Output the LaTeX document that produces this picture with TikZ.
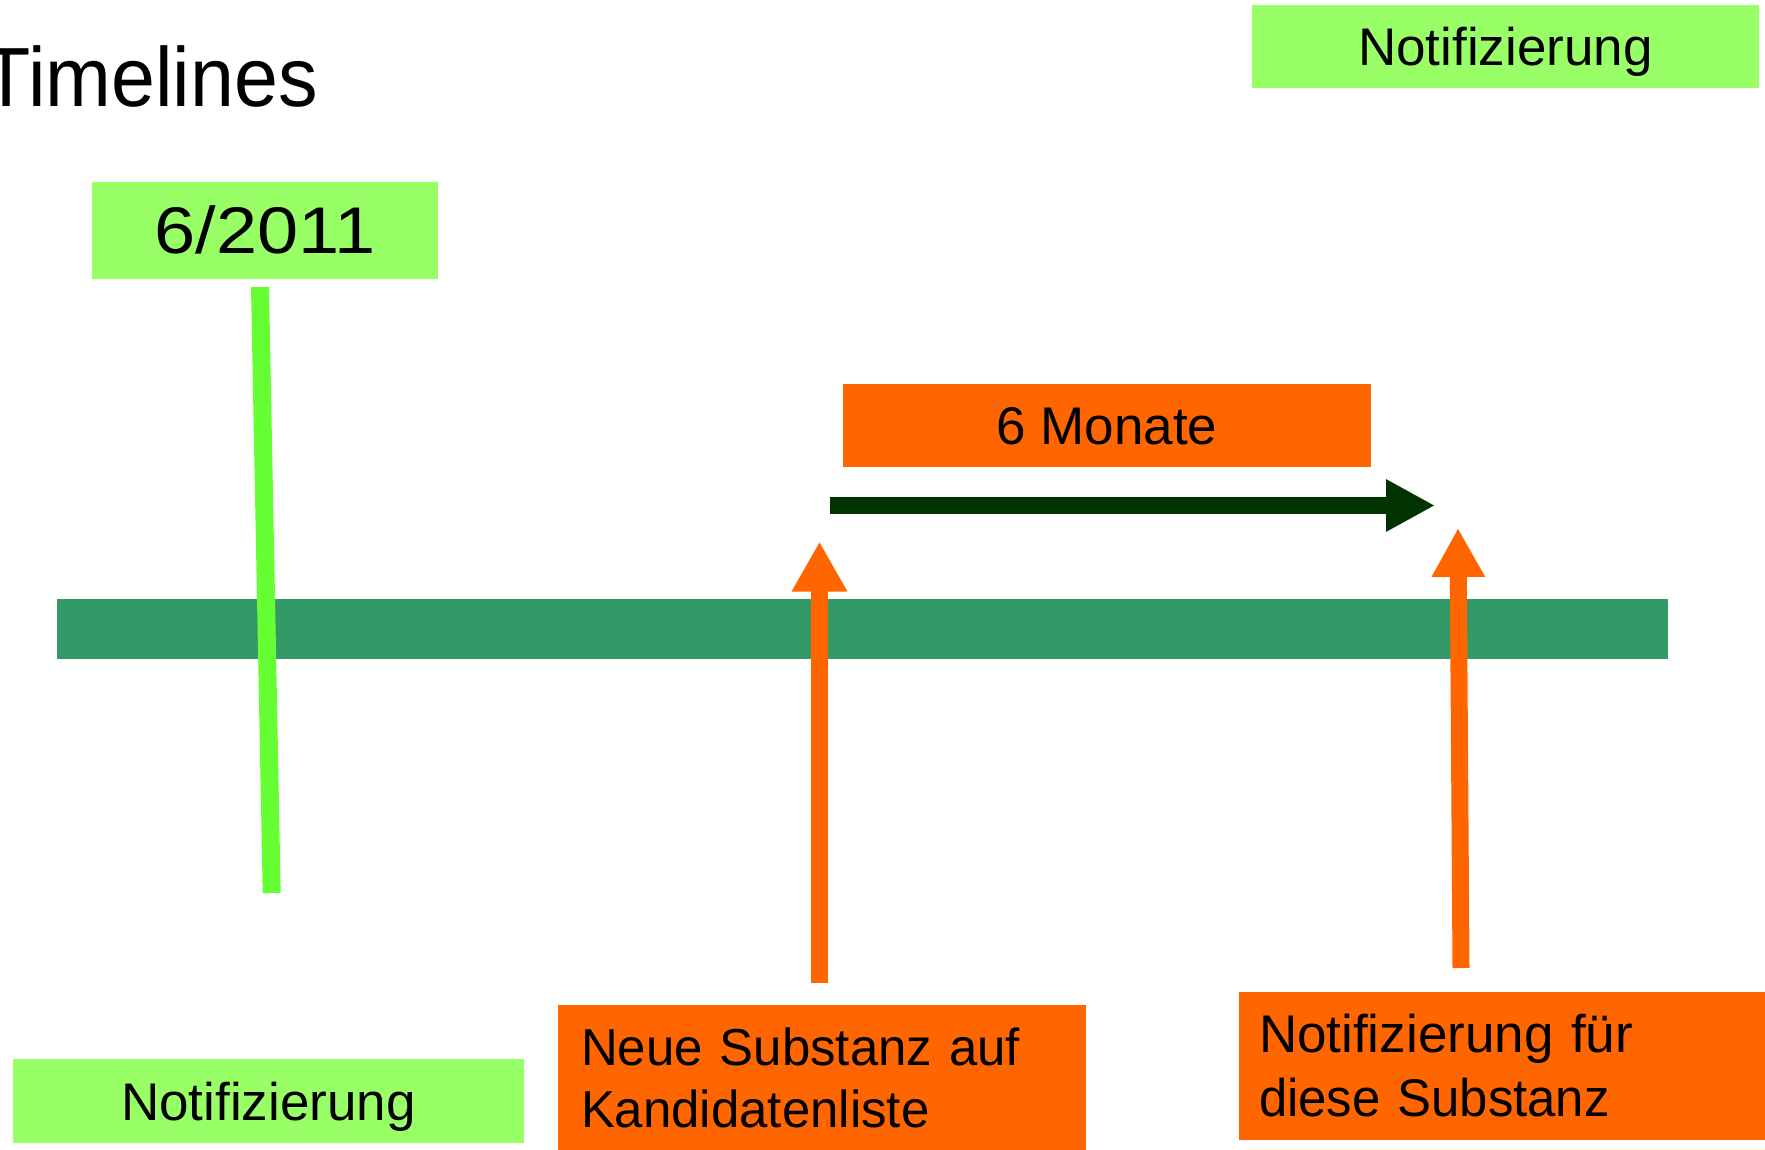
\documentclass[tikz,border=0pt]{standalone}
\usepackage{fontspec}
\setmainfont{Liberation Sans}
\usetikzlibrary{arrows.meta}
\definecolor{lgreen}{HTML}{99FF66}
\definecolor{orng}{HTML}{FF6600}
\definecolor{barteal}{HTML}{339966}
\definecolor{dgreen}{HTML}{003300}
\definecolor{bgreen}{HTML}{66FF33}
\begin{document}
\begin{tikzpicture}[x=1pt,y=-1pt,
  gbox/.style={fill=lgreen, inner sep=0pt, text=black},
  obox/.style={fill=orng, inner sep=0pt, text=black},
  body/.style={font=\fontsize{53}{64}\selectfont, text height=38pt, text depth=0pt},
  uparrow/.style={orng, line width=17pt},
]
\useasboundingbox (0,0) rectangle (1765,1150);

% title
\node[anchor=base east, inner sep=0pt, font=\fontsize{84}{100}\selectfont] (title) at (318,107) {\scalebox{0.94}[1]{Timelines}};

% time bar
\node[fill=barteal, minimum width=1611pt, minimum height=60pt, inner sep=0pt] (bar) at (862.5,629) {};

% boxes
\node[gbox, body, minimum width=507pt, minimum height=83pt] (notitop) at (1505.5,46.5) {Notifizierung};
\node[gbox, minimum width=346pt, minimum height=97pt, font=\fontsize{66}{80}\selectfont, text height=47pt, text depth=0pt] (date) at (265,230.5) {\scalebox{1.12}[1]{6/2011}};
\node[obox, body, minimum width=528pt, minimum height=83pt] (monate) at (1107,425.5) {6 Monate};
\node[gbox, body, minimum width=511pt, minimum height=84pt] (notibot) at (268.5,1101) {Notifizierung};
\node[obox, font=\fontsize{52}{62}\selectfont, align=left, text width=482pt, inner xsep=23pt, inner ysep=0pt, minimum height=145pt] (neue) at (822,1077.5) {\scalebox{0.98}[1]{Neue Substanz auf}\\\scalebox{0.98}[1]{Kandidatenliste}};
\node[obox, font=\fontsize{53}{64}\selectfont, align=left, text width=486pt, inner xsep=20pt, inner ysep=0pt, minimum height=148pt] (fuer) at (1502,1066) {Notifizierung für\\\scalebox{0.96}[1]{diese Substanz}};

% green marker line
\coordinate (gtop) at (260,287);
\coordinate (gbot) at (271.7,893);
\draw[bgreen, line width=18pt] (gtop) -- (gbot);

% six-month arrow
\coordinate (ms) at (830,505.5);
\coordinate (me) at (1435,505.5);
\draw[dgreen, line width=17pt, -{Triangle[length=49pt, width=49pt]}] (ms) -- (me);

% orange arrows
\coordinate (a1s) at (819.5,983);
\coordinate (a1t) at (819.5,541.5);
\draw[uparrow, -{Triangle[length=50pt, width=52pt]}] (a1s) -- (a1t);
\coordinate (a2s) at (1461,968);
\coordinate (a2t) at (1458,528);
\draw[uparrow, -{Triangle[length=49pt, width=50pt]}] (a2s) -- (a2t);
\end{tikzpicture}
\end{document}
